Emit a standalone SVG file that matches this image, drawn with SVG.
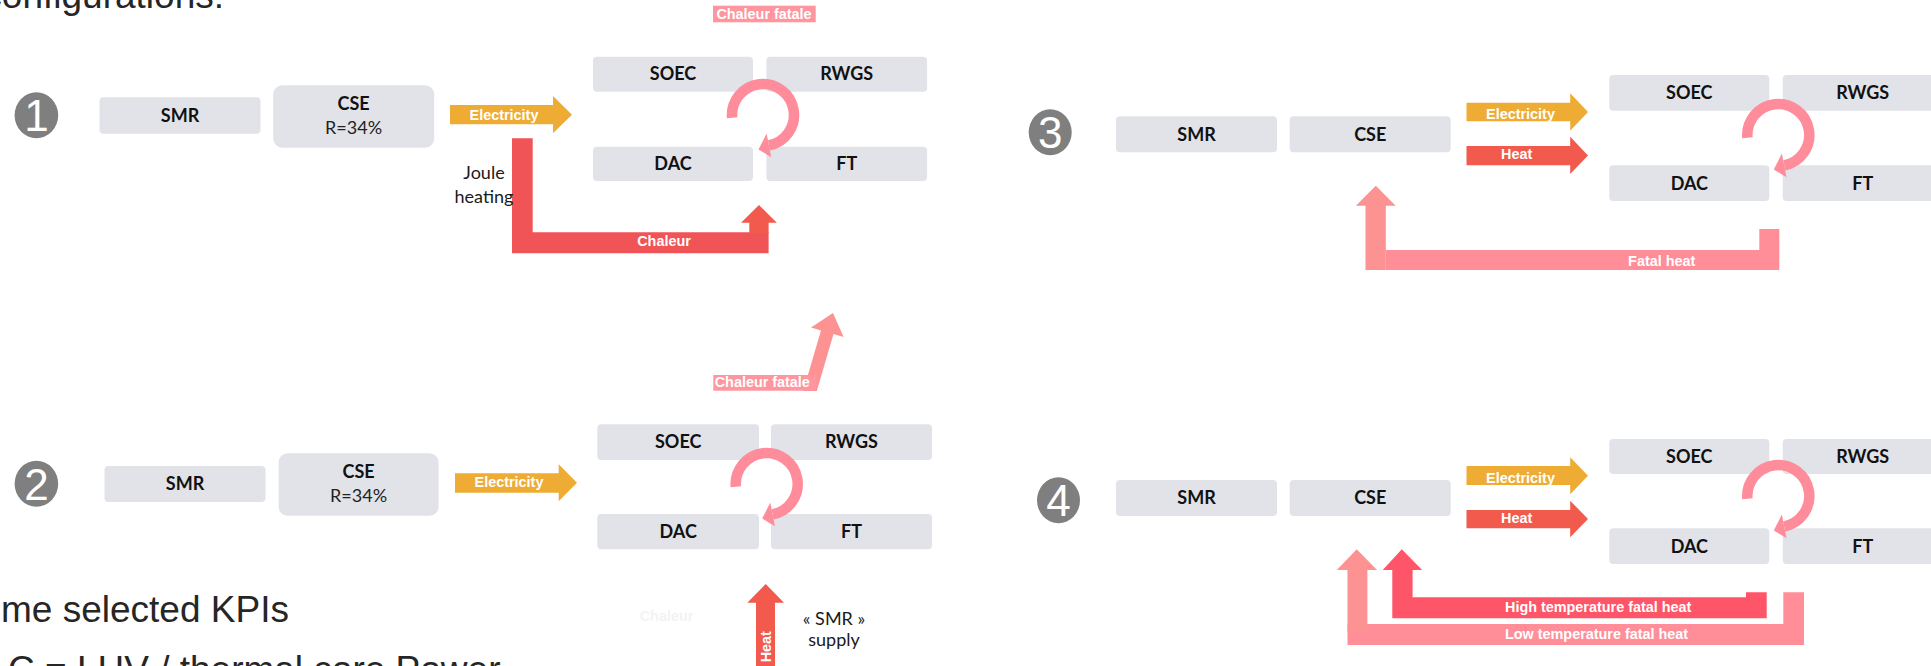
<svg xmlns="http://www.w3.org/2000/svg" width="1931" height="666" viewBox="0 0 1931 666">
  <style>
    .box{fill:#E2E3E9}
    .bt{font-family:Lato,"Liberation Sans",sans-serif;font-weight:700;font-size:18px;fill:#111;text-anchor:middle}
    .bn{font-family:Lato,"Liberation Sans",sans-serif;font-weight:400;font-size:18px;fill:#222;text-anchor:middle}
    .note{font-family:Lato,"Liberation Sans",sans-serif;font-weight:400;font-size:18px;fill:#1a1a1a;text-anchor:middle}
    .al{font-family:"Liberation Sans",Arial,sans-serif;font-weight:700;font-size:14.4px;fill:#fff;text-anchor:middle}
    .als{font-family:"Liberation Sans",Arial,sans-serif;font-weight:700;font-size:14.4px;fill:#fff;text-anchor:start}
    .num{fill:#7F7F7F}
    .nt{font-family:"Liberation Sans",Arial,sans-serif;font-size:44px;fill:#fff;text-anchor:middle}
    .elec{fill:#EEAC35}
    .heat{fill:#F25A4E}
    .chal{fill:#F15456}
    .tag{fill:#FF959E}
    .fat{fill:#FF8E99}
    .fatv{fill:#FC9292}
    .hot{fill:#FF5568}
    .loop{fill:none;stroke:#FF8C9A;stroke-width:10.5}
    .loophead{fill:#FF8C9A}
    .slide{font-family:"Liberation Sans",Arial,sans-serif;font-size:37px;fill:#262626}
  </style>
  <defs>
    <!-- recycling loop between the four process units, centred on (0,0) -->
    <g id="loop">
      <path class="loop" d="M -30.88 2.7 A 31 31 0 1 1 5.92 30.43"/>
      <polygon class="loophead" points="3.6,18.6 8.2,42.2 -4.5,34.5"/>
    </g>
  </defs>

  <rect width="1931" height="666" fill="#fff"/>

  <!-- slide text around the figure -->
  <g id="slide-text">
    <text class="slide" x="224" y="7.5" text-anchor="end">configurations:</text>
    <text class="slide" x="1" y="621.7">me selected KPIs</text>
    <text class="slide" x="8" y="681.5">C = LHV / thermal core Power</text>
  </g>

  <!-- configuration numbers -->
  <g id="n1"><ellipse class="num" cx="36.4" cy="115.3" rx="21.8" ry="23"/><text class="nt" x="36.4" y="131">1</text></g>
  <g id="n2"><ellipse class="num" cx="36.4" cy="483.8" rx="21.8" ry="23"/><text class="nt" x="36.4" y="499.5">2</text></g>
  <g id="n3"><ellipse class="num" cx="1050.2" cy="132.2" rx="21.5" ry="23"/><text class="nt" x="1050.2" y="148">3</text></g>
  <g id="n4"><ellipse class="num" cx="1058.5" cy="500.3" rx="21.5" ry="23"/><text class="nt" x="1058.5" y="516">4</text></g>

  <!-- configuration 1 units -->
  <g id="c1-smr"><rect class="box" x="99.5" y="97.3" width="161" height="36.4" rx="4"/><text class="bt" x="180" y="121.8">SMR</text></g>
  <g id="c1-cse"><rect class="box" x="273.2" y="85.3" width="161" height="62.4" rx="9"/><text class="bt" x="353.6" y="110">CSE</text><text class="bn" x="353.6" y="134.3">R=34%</text></g>
  <g id="c1-soec"><rect class="box" x="593" y="56.7" width="160" height="35" rx="4"/><text class="bt" x="673" y="80.3">SOEC</text></g>
  <g id="c1-rwgs"><rect class="box" x="766.4" y="56.7" width="160.7" height="35" rx="4"/><text class="bt" x="846.7" y="80.3">RWGS</text></g>
  <g id="c1-dac"><rect class="box" x="593" y="146.7" width="160" height="34.3" rx="4"/><text class="bt" x="673" y="170.2">DAC</text></g>
  <g id="c1-ft"><rect class="box" x="766.4" y="146.7" width="160.7" height="34.3" rx="4"/><text class="bt" x="846.7" y="170.2">FT</text></g>

  <!-- configuration 2 units -->
  <g id="c2-smr"><rect class="box" x="104.5" y="466" width="161" height="36" rx="4"/><text class="bt" x="185" y="490.3">SMR</text></g>
  <g id="c2-cse"><rect class="box" x="278.6" y="453.3" width="160" height="62.4" rx="9"/><text class="bt" x="358.6" y="478.3">CSE</text><text class="bn" x="358.6" y="502.3">R=34%</text></g>
  <g id="c2-soec"><rect class="box" x="597.3" y="424.3" width="161.7" height="35.7" rx="4"/><text class="bt" x="678.2" y="448.3">SOEC</text></g>
  <g id="c2-rwgs"><rect class="box" x="771" y="424.3" width="161" height="35.7" rx="4"/><text class="bt" x="851.5" y="448.3">RWGS</text></g>
  <g id="c2-dac"><rect class="box" x="597.3" y="514" width="161.7" height="35.3" rx="4"/><text class="bt" x="678.2" y="537.8">DAC</text></g>
  <g id="c2-ft"><rect class="box" x="771" y="514" width="161" height="35.3" rx="4"/><text class="bt" x="851.5" y="537.8">FT</text></g>

  <!-- configuration 3 units -->
  <g id="c3-smr"><rect class="box" x="1116" y="116.3" width="161" height="36" rx="4"/><text class="bt" x="1196.5" y="140.5">SMR</text></g>
  <g id="c3-cse"><rect class="box" x="1289.7" y="116.3" width="161" height="36" rx="4"/><text class="bt" x="1370.2" y="140.5">CSE</text></g>
  <g id="c3-soec"><rect class="box" x="1609.3" y="75" width="160" height="35.7" rx="4"/><text class="bt" x="1689.3" y="99.2">SOEC</text></g>
  <g id="c3-rwgs"><rect class="box" x="1782.7" y="75" width="160" height="35.7" rx="4"/><text class="bt" x="1862.7" y="99.2">RWGS</text></g>
  <g id="c3-dac"><rect class="box" x="1609.3" y="165.3" width="160" height="35.7" rx="4"/><text class="bt" x="1689.3" y="189.5">DAC</text></g>
  <g id="c3-ft"><rect class="box" x="1782.7" y="165.3" width="160" height="35.7" rx="4"/><text class="bt" x="1862.7" y="189.5">FT</text></g>

  <!-- configuration 4 units -->
  <g id="c4-smr"><rect class="box" x="1116" y="480" width="161" height="36" rx="4"/><text class="bt" x="1196.5" y="504.3">SMR</text></g>
  <g id="c4-cse"><rect class="box" x="1289.7" y="480" width="161" height="36" rx="4"/><text class="bt" x="1370.2" y="504.3">CSE</text></g>
  <g id="c4-soec"><rect class="box" x="1609.3" y="439" width="160" height="35" rx="4"/><text class="bt" x="1689.3" y="462.8">SOEC</text></g>
  <g id="c4-rwgs"><rect class="box" x="1782.7" y="439" width="160" height="35" rx="4"/><text class="bt" x="1862.7" y="462.8">RWGS</text></g>
  <g id="c4-dac"><rect class="box" x="1609.3" y="528.3" width="160" height="35.7" rx="4"/><text class="bt" x="1689.3" y="552.5">DAC</text></g>
  <g id="c4-ft"><rect class="box" x="1782.7" y="528.3" width="160" height="35.7" rx="4"/><text class="bt" x="1862.7" y="552.5">FT</text></g>

  <!-- connectors: energy flows, drawn over the units -->
  <g id="connectors">
    <!-- configuration 1 -->
    <polygon class="elec" points="450,105 553,105 553,96 572,114.7 553,133.3 553,124.3 450,124.3"/>
    <polygon class="chal" points="512,138.3 532.7,138.3 532.7,232.3 768.6,232.3 768.6,253.3 512,253.3"/>
    <polygon class="heat" points="749.3,233 749.3,222.7 741,222.7 759,205 776.8,222.7 768.6,222.7 768.6,233"/>
    <rect class="tag" x="713" y="5.7" width="102.7" height="16.6"/>

    <!-- configuration 2 -->
    <polygon class="elec" points="455,473.3 558.7,473.3 558.7,464.3 577,482.8 558.7,501.3 558.7,492.7 455,492.7"/>
    <polygon class="fatv" points="803.2,391 821,330.4 811,327.4 833,313 843.6,337 833.5,334 816.8,391"/>
    <rect class="tag" x="713.3" y="375" width="103.4" height="15.7"/>
    <polygon class="heat" points="756,670 756,602.7 747.3,602.7 765.7,584 784,602.7 775,602.7 775,670"/>

    <!-- configuration 3 -->
    <polygon class="elec" points="1466.5,102.7 1570.2,102.7 1570.2,93.3 1588,112 1570.2,130.7 1570.2,121.3 1466.5,121.3"/>
    <polygon class="heat" points="1466.5,146 1570.2,146 1570.2,136.7 1588,155.4 1570.2,174 1570.2,165.3 1466.5,165.3"/>
    <polygon class="fatv" points="1365.5,270 1365.5,205.7 1355.9,205.7 1375.8,185.7 1395.7,205.7 1385.8,205.7 1385.8,270"/>
    <polygon class="fat" points="1385.8,250 1759.3,250 1759.3,229 1779.3,229 1779.3,270 1385.8,270"/>

    <!-- configuration 4 -->
    <polygon class="elec" points="1466.5,466 1570.2,466 1570.2,457.3 1588,475.8 1570.2,494.3 1570.2,485 1466.5,485"/>
    <polygon class="heat" points="1466.5,510 1570.2,510 1570.2,500.7 1588,519 1570.2,537.3 1570.2,528.3 1466.5,528.3"/>
    <polygon class="fat" points="1347.5,624 1783.3,624 1783.3,592.3 1804,592.3 1804,645 1347.5,645"/>
    <polygon class="fatv" points="1347.5,632 1347.5,570 1336.8,570 1356.7,549.3 1377,570 1367.4,570 1367.4,632"/>
    <polygon class="hot" points="1392.3,618.3 1392.3,570 1382.7,570 1401.8,549.3 1422.1,570 1412.6,570 1412.6,597.3 1746,597.3 1746,592.3 1766.7,592.3 1766.7,618.3"/>

    <!-- recycling loops -->
    <use href="#loop" transform="translate(763,115)"/>
    <use href="#loop" transform="translate(766.7,484)"/>
    <use href="#loop" transform="translate(1778.3,135)"/>
    <use href="#loop" transform="translate(1778.3,496)"/>

    <!-- flow labels -->
    <text class="al" x="504" y="120" font-size="14">Electricity</text>
    <text class="al" x="664" y="245.7">Chaleur</text>
    <text class="al" x="764" y="19.3">Chaleur fatale</text>
    <text class="note" x="484" y="179">Joule</text>
    <text class="note" x="484" y="203">heating</text>

    <text class="al" x="509" y="486.7">Electricity</text>
    <text class="al" x="762.3" y="387.3">Chaleur fatale</text>
    <text class="al" x="666.5" y="621" style="fill:#F3F3F3">Chaleur</text>
    <text class="al" transform="translate(770.5,646.7) rotate(-90)">Heat</text>
    <text class="note" x="834" y="625">« SMR »</text>
    <text class="note" x="834" y="646">supply</text>

    <text class="al" x="1520.5" y="119.3">Electricity</text>
    <text class="al" x="1516.6" y="159">Heat</text>
    <text class="al" x="1661.7" y="265.7">Fatal heat</text>

    <text class="al" x="1520.5" y="483.3">Electricity</text>
    <text class="al" x="1516.6" y="522.7">Heat</text>
    <text class="als" x="1505" y="612.3">High temperature fatal heat</text>
    <text class="als" x="1505" y="639.3">Low temperature fatal heat</text>
  </g>
</svg>
